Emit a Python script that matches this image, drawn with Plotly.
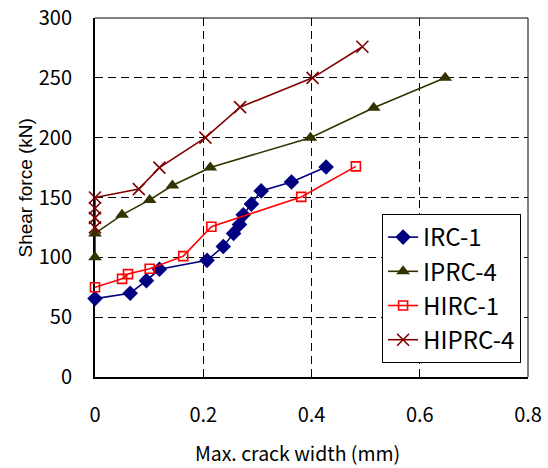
import plotly.graph_objects as go

# Data
irc1_x = [0.0, 0.065, 0.095, 0.119, 0.207, 0.237, 0.256, 0.267, 0.274, 0.289, 0.307, 0.363, 0.427]
irc1_y = [65.5, 70, 80.5, 90, 97.5, 109, 120, 127.5, 135.5, 144.5, 155.5, 163, 175.5]

iprc4_x = [0.0, 0.0, 0.05, 0.101, 0.143, 0.213, 0.398, 0.515, 0.647]
iprc4_y = [100, 120, 135.5, 148, 160, 175, 200, 225, 250]

hirc1_x = [0.0, 0.05, 0.061, 0.101, 0.163, 0.215, 0.381, 0.482]
hirc1_y = [75, 82, 86, 90.5, 101, 125.5, 150.5, 176]

hiprc4_x = [0.0, 0.0, 0.0, 0.0, 0.081, 0.119, 0.204, 0.268, 0.402, 0.494]
hiprc4_y = [125, 133, 141, 150, 157, 175, 200, 225.5, 250, 276]

x_ticks = [0, 0.2, 0.4, 0.6, 0.8]
x_labels = ["0", "0.2", "0.4", "0.6", "0.8"]
y_ticks = [0, 50, 100, 150, 200, 250, 300]

FONT = "Noto Sans CJK JP, Liberation Sans, Arial, sans-serif"

fig = go.Figure()
fig.add_trace(go.Scatter(x=irc1_x, y=irc1_y, name="IRC-1", mode="lines+markers",
                         legendgroup="a", cliponaxis=False,
                         line=dict(color="#000080", width=1.6),
                         marker=dict(symbol="diamond", size=12, color="#000080")))
fig.add_trace(go.Scatter(x=iprc4_x, y=iprc4_y, name="IPRC-4", mode="lines+markers",
                         legendgroup="b", cliponaxis=False,
                         line=dict(color="#333300", width=1.6),
                         marker=dict(symbol="triangle-up", size=12, color="#333300")))
fig.add_trace(go.Scatter(x=hirc1_x, y=hirc1_y, name="HIRC-1", mode="lines+markers",
                         legendgroup="c", cliponaxis=False,
                         line=dict(color="#FF0000", width=1.6),
                         marker=dict(symbol="square-open", size=9, color="#FF0000",
                                     line=dict(width=1.6))))
fig.add_trace(go.Scatter(x=hiprc4_x, y=hiprc4_y, name="HIPRC-4", mode="lines+markers",
                         legendgroup="d", cliponaxis=False,
                         line=dict(color="#800000", width=1.6),
                         marker=dict(symbol="x-thin-open", size=12, color="#800000",
                                     line=dict(width=1.6, color="#800000"))))

fig.update_layout(
    width=548, height=468,
    margin=dict(l=95, r=20, t=18, b=91, autoexpand=False),
    paper_bgcolor="white", plot_bgcolor="white",
    font=dict(family=FONT, size=20, color="black"),
    showlegend=True,
    legend=dict(x=0.663, y=0.454, xanchor="left", yanchor="top",
                bgcolor="white", bordercolor="black", borderwidth=1,
                font=dict(family=FONT, size=24, color="black"),
                tracegroupgap=0),
    xaxis=dict(range=[0, 0.8], tickvals=x_ticks, ticktext=x_labels,
               showgrid=True, gridcolor="black", gridwidth=1, griddash="8px,5px",
               zeroline=False, showline=True, linecolor="black", linewidth=2,
               ticks="", ticklabelstandoff=19, automargin=False, layer="below traces",
               tickfont=dict(family=FONT, size=20)),
    yaxis=dict(range=[0, 300], tickvals=y_ticks,
               showgrid=True, gridcolor="black", gridwidth=1, griddash="8px,5px",
               zeroline=False, showline=True, linecolor="black", linewidth=2,
               ticks="", ticklabelstandoff=17, automargin=False, layer="below traces",
               tickfont=dict(family=FONT, size=20)),
    shapes=[
        dict(type="line", xref="paper", yref="paper", x0=0, x1=1, y0=1, y1=1,
             line=dict(color="black", width=1), layer="below"),
        dict(type="line", xref="paper", yref="paper", x0=1, x1=1, y0=0, y1=1,
             line=dict(color="black", width=1), layer="below"),
    ],
    annotations=[
        dict(text="Max. crack width (mm)", xref="paper", yref="paper",
             x=0.468, y=-0.211, xanchor="center", yanchor="middle", showarrow=False,
             font=dict(family=FONT, size=19.5)),
        dict(text="Shear force (kN)", xref="paper", yref="paper",
             x=-0.16, y=0.527, xanchor="center", yanchor="middle", showarrow=False,
             textangle=-90, font=dict(family="Liberation Sans, Arial, sans-serif", size=19)),
    ],
)

fig.write_html("out.html")
